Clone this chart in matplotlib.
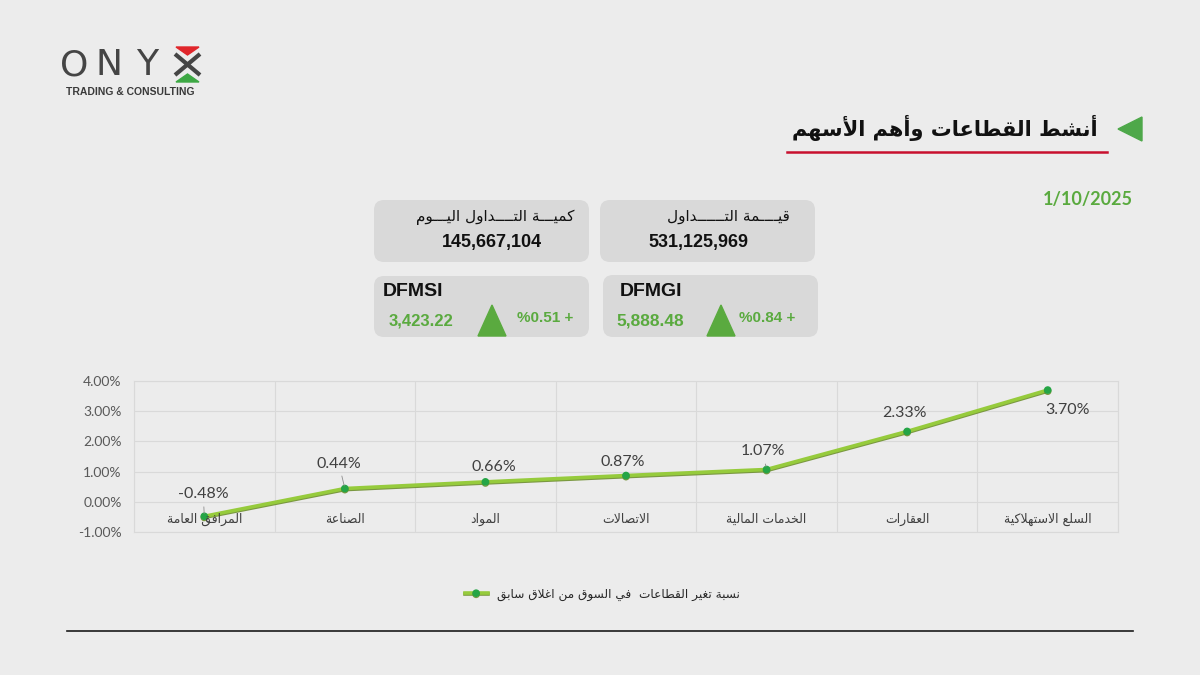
import numpy as np
import matplotlib.pyplot as plt
import matplotlib.patheffects as pe
from matplotlib.patches import FancyBboxPatch, Polygon
from matplotlib.ticker import FuncFormatter

# ---- data ----
sectors = ['المرافق العامة', 'الصناعة', 'المواد', 'الاتصالات',
           'الخدمات المالية', 'العقارات', 'السلع الاستهلاكية']
sector_change = [-0.48, 0.44, 0.66, 0.87, 1.07, 2.33, 3.70]

index_names = ['DFMSI', 'DFMGI']
index_close = [3423.22, 5888.48]
index_change = [0.51, 0.84]

volume_today = 145667104
traded_value = 531125969
report_date = '1/10/2025'

title = 'أنشط القطاعات وأهم الأسهم'
volume_label = 'كميـــة التــــداول اليـــوم'
value_label = 'قيــــمة التــــــداول'
legend_label = 'نسبة تغير القطاعات  في السوق من اغلاق سابق'

# data label offsets in pixels (dx, dy) and which ones get a leader line
label_offsets = [(-1, 22), (-6, 25), (8, 15), (-3, 14), (-4, 18), (-3, 18), (20, -20)]
leader = [True, True, False, False, True, False, False]

BG = '#ECECEC'
BOX = '#D9D9D9'
GREEN = '#5AAA3F'
AR = 'DejaVu Sans'

# ---- tiny arabic shaper: matplotlib 3.10 has no text shaping ----
# int -> dual joining (iso, fin, ini, med = base..base+3); tuple -> right joining (iso, fin)
FORMS = {
    'ا': (0xFE8D, 0xFE8E), 'أ': (0xFE83, 0xFE84), 'إ': (0xFE87, 0xFE88), 'آ': (0xFE81, 0xFE82),
    'ة': (0xFE93, 0xFE94), 'د': (0xFEA9, 0xFEAA), 'ذ': (0xFEAB, 0xFEAC), 'ر': (0xFEAD, 0xFEAE),
    'ز': (0xFEAF, 0xFEB0), 'و': (0xFEED, 0xFEEE), 'ى': (0xFEEF, 0xFEF0),
    'ب': 0xFE8F, 'ت': 0xFE95, 'ث': 0xFE99, 'ج': 0xFE9D, 'ح': 0xFEA1, 'خ': 0xFEA5,
    'س': 0xFEB1, 'ش': 0xFEB5, 'ص': 0xFEB9, 'ض': 0xFEBD, 'ط': 0xFEC1, 'ظ': 0xFEC5,
    'ع': 0xFEC9, 'غ': 0xFECD, 'ف': 0xFED1, 'ق': 0xFED5, 'ك': 0xFED9, 'ل': 0xFEDD,
    'م': 0xFEE1, 'ن': 0xFEE5, 'ه': 0xFEE9, 'ي': 0xFEF1,
}
LAM_ALEF = {'ا': 0xFEFB, 'أ': 0xFEF7, 'إ': 0xFEF9, 'آ': 0xFEF5}


def dual(c):
    return c == 'ـ' or isinstance(FORMS.get(c), int)


def joins(c):
    return c in ('ـ', 'LA') or c in FORMS


def shape(text):
    chars = []
    i = 0
    while i < len(text):
        if text[i] == 'ل' and i + 1 < len(text) and text[i + 1] in LAM_ALEF:
            chars.append(('LA', LAM_ALEF[text[i + 1]]))
            i += 2
        else:
            chars.append((text[i], None))
            i += 1
    out = []
    for k, (c, lig) in enumerate(chars):
        prev = chars[k - 1][0] if k > 0 else ' '
        nxt = chars[k + 1][0] if k + 1 < len(chars) else ' '
        if c == 'LA':
            out.append(chr(lig + (1 if dual(prev) else 0)))
        elif c in FORMS:
            f = FORMS[c]
            p, n = dual(prev), joins(nxt)
            if isinstance(f, tuple):
                out.append(chr(f[1] if p else f[0]))
            elif p and n:
                out.append(chr(f + 3))
            elif p:
                out.append(chr(f + 1))
            elif n:
                out.append(chr(f + 2))
            else:
                out.append(chr(f))
        else:
            out.append(c)
    return ''.join(reversed(out))


fig = plt.figure(figsize=(12, 6.75), dpi=100, facecolor=BG)

# page layer in pixel coordinates
page = fig.add_axes([0, 0, 1, 1])
page.set_xlim(0, 1200)
page.set_ylim(675, 0)
page.axis('off')

# logo
for ch, x in zip('ONY', [74, 109, 147]):
    page.text(x, 65, ch, fontsize=26, color='#454545', ha='center', va='center',
              family='DejaVu Sans')
page.plot([175, 200], [54, 75], color='#454545', lw=3, solid_capstyle='butt')
page.plot([200, 175], [54, 75], color='#454545', lw=3, solid_capstyle='butt')
page.add_patch(Polygon([(176, 47), (199, 47), (187.5, 55)], closed=True, color='#E0262B'))
page.add_patch(Polygon([(176, 82), (199, 82), (187.5, 74)], closed=True, color='#3DA844'))
page.text(66, 92, 'TRADING & CONSULTING', fontsize=7.5, weight='bold', color='#3A3A3A',
          va='center', family='Liberation Sans')

# title
page.add_patch(Polygon([(1118, 129), (1142, 117), (1142, 141)], closed=True, color='#4EA84A'))
page.text(1098, 128, shape(title), ha='right', va='center', fontsize=15, weight='bold',
          color='#111111', family=AR)
page.plot([787, 1107], [152, 152], color='#C8102E', lw=1.8)
page.text(1133, 199, report_date, ha='right', va='center', color=GREEN, fontsize=13,
          weight='bold', family='Lato')


def box(x, y, w, h):
    page.add_patch(FancyBboxPatch((x, y), w, h, boxstyle='round,pad=0,rounding_size=10',
                                  fc=BOX, ec='none'))


box(374, 200, 215, 62)
box(600, 200, 215, 62)
box(374, 276, 215, 61)
box(603, 275, 215, 62)

page.text(574, 217, shape(volume_label), ha='right', va='center', fontsize=11, color='#111111', family=AR)
page.text(492, 243, f'{volume_today:,}', ha='center', va='center', fontsize=13, weight='bold',
          color='#111111', family='Liberation Sans')
page.text(790, 217, shape(value_label), ha='right', va='center', fontsize=11, color='#111111', family=AR)
page.text(698, 243, f'{traded_value:,}', ha='center', va='center', fontsize=13, weight='bold',
          color='#111111', family='Liberation Sans')

# index boxes
name_x = [383, 620]
close_x = [389, 616]
close_size = [12, 12.5]
tri_x = [478, 707]
chg_x = [573, 795]
for k in range(2):
    page.text(name_x[k], 292, index_names[k], fontsize=14, weight='bold', color='#111111',
              va='center', family='Liberation Sans')
    page.text(close_x[k], 321, f'{index_close[k]:,.2f}', fontsize=close_size[k], weight='bold',
              color=GREEN, va='center', family='Liberation Sans')
    page.add_patch(Polygon([(tri_x[k], 336), (tri_x[k] + 28, 336), (tri_x[k] + 14, 305)],
                           closed=True, color=GREEN))
    page.text(chg_x[k], 318, f'%{index_change[k]:.2f} +', fontsize=11, weight='bold',
              color=GREEN, ha='right', va='center', family='Liberation Sans')

page.plot([67, 1133], [631, 631], color='#1A1A1A', lw=1.2)

# ---- line chart ----
ax = fig.add_axes([134 / 1200, 1 - 532 / 675, (1118 - 134) / 1200, (532 - 381) / 675])
ax.set_facecolor('none')
x = np.arange(len(sectors))
ax.plot(x, sector_change, color='#96CB3C', lw=2.6, marker='o', ms=4.5, mfc='#25A546', mec='#25A546',
        path_effects=[pe.SimpleLineShadow(offset=(0, -0.8), shadow_color='#6E8F2E', alpha=0.9), pe.Normal()],
        zorder=3, label=shape(legend_label))

ax.set_xlim(-0.5, len(sectors) - 0.5)
ax.set_ylim(-1, 4)
ax.set_xticks(np.arange(-0.5, len(sectors)))
ax.set_yticks(np.arange(-1, 5, 1))
ax.yaxis.set_major_formatter(FuncFormatter(lambda v, _: f'{v:.2f}%'))
ax.tick_params(axis='x', length=0, labelbottom=False)
ax.tick_params(axis='y', length=0, labelsize=10, labelcolor='#595959', pad=9)
for lab in ax.get_yticklabels():
    lab.set_family('Lato')
ax.grid(color='#D9D9D9', lw=0.8)
for s in ax.spines.values():
    s.set_color('#D9D9D9')
    s.set_linewidth(0.8)

for i, name in enumerate(sectors):
    ax.annotate(shape(name), (i, 0), xytext=(0, -18), textcoords='offset pixels', ha='center',
                va='center', fontsize=9, color='#404040', family=AR)

for i, v in enumerate(sector_change):
    dx, dy = label_offsets[i]
    props = dict(arrowstyle='-', color='#8C8C8C', lw=0.6, shrinkA=2, shrinkB=2) if leader[i] else None
    ax.annotate(f'{v:.2f}%', (i, v), xytext=(dx, dy), textcoords='offset pixels', ha='center',
                va='center', fontsize=11.5, color='#404040', family='Lato', arrowprops=props, zorder=4)

leg = ax.legend(loc='center', bbox_to_anchor=(0.502, 0.12), bbox_transform=fig.transFigure,
                frameon=False, prop={'family': AR, 'size': 8.7}, handlelength=1.9)
for t in leg.get_texts():
    t.set_color('#262626')

fig.savefig('out.png', dpi=100, facecolor=fig.get_facecolor())
